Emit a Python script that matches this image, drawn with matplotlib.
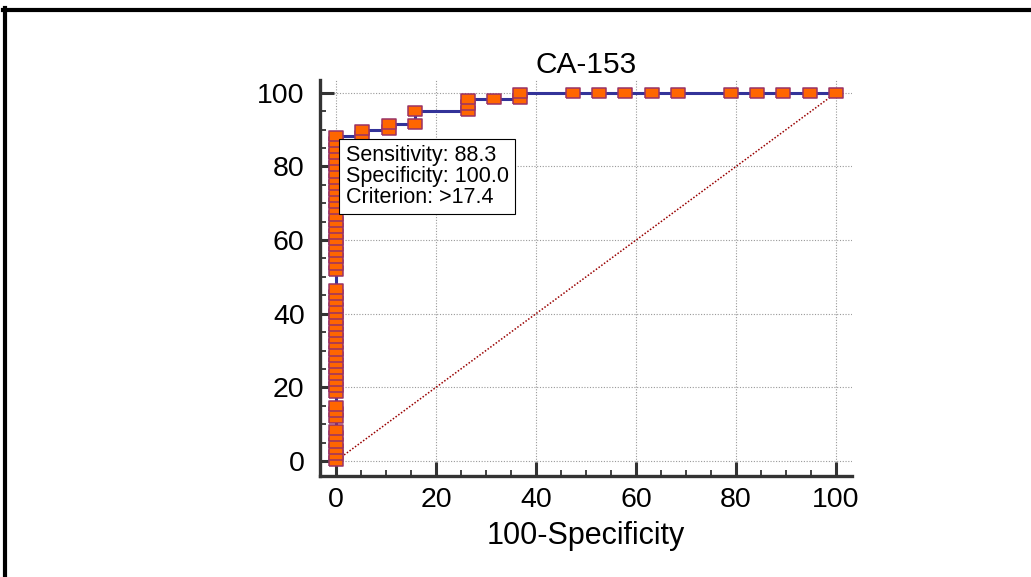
import numpy as np
import matplotlib
matplotlib.use("Agg")
import matplotlib.pyplot as plt
from matplotlib.lines import Line2D
from matplotlib.ticker import MultipleLocator

plt.rcParams['font.family'] = ['Liberation Sans', 'DejaVu Sans']

# === ROC points for CA-153 (100-Specificity, Sensitivity) ===
fpr = [0] * 50 + [5.26, 5.26, 10.53, 10.53, 15.79, 15.79,
                  26.32, 26.32, 26.32, 31.58, 36.84, 36.84,
                  47.37, 52.63, 57.89, 63.16, 68.42,
                  78.95, 84.21, 89.47, 94.74, 100.0]
tpr = [0, 1.67, 3.33, 5.0, 6.67, 8.33, 11.67, 13.33, 15.0,
       18.33, 20.0, 21.67, 23.33, 25.0, 26.67, 28.33, 30.0, 31.67,
       33.33, 35.0, 36.67, 38.33, 40.0, 41.67, 43.33, 45.0, 46.67,
       51.67, 53.33, 55.0, 56.67, 58.33, 60.0, 61.67, 63.33, 65.0,
       66.67, 68.33, 70.0, 71.67, 73.33, 75.0, 76.67, 78.33, 80.0,
       81.67, 83.33, 85.0, 86.67, 88.33,
       88.33, 90.0, 90.0, 91.67, 91.67, 95.0,
       95.0, 96.67, 98.33, 98.33, 98.33, 100.0,
       100.0, 100.0, 100.0, 100.0, 100.0,
       100.0, 100.0, 100.0, 100.0, 100.0]

title = "CA-153"
box_lines = ["Sensitivity: 88.3", "Specificity: 100.0", "Criterion: >17.4"]
ticks = [0, 20, 40, 60, 80, 100]

fig = plt.figure(figsize=(10.31, 5.77), dpi=100)
ax = fig.add_axes([320 / 1031, 1 - 476 / 577, 532 / 1031, 396 / 577])

# grid
for t in ticks:
    ax.axhline(t, color='#999999', lw=0.8, ls=(0, (1, 1.5)), zorder=1)
    ax.axvline(t, color='#999999', lw=0.8, ls=(0, (1, 1.5)), zorder=1)

# diagonal reference
ax.plot([0, 100], [0, 100], color='#990000', lw=1.1, ls=(0, (1, 1.2)), zorder=2)

# ROC curve (steps) + markers
rect = [(-1.45, -1), (1.45, -1), (1.45, 1), (-1.45, 1), (-1.45, -1)]
ax.plot(fpr, tpr, color='#333399', lw=2.2, drawstyle='steps-post', zorder=3)
ax.plot(fpr, tpr, ls='none', marker=rect, markersize=9.8,
        markerfacecolor='#FF6600', markeredgecolor='#993366',
        markeredgewidth=1.1, zorder=4)

ax.set_xlim(-3.2, 103.2)
ax.set_ylim(-4.1, 103.5)
ax.set_xticks(ticks)
ax.set_yticks(ticks)
ax.xaxis.set_minor_locator(MultipleLocator(5))
ax.yaxis.set_minor_locator(MultipleLocator(5))
ax.tick_params(which='major', direction='in', length=10, width=2.2,
               color='#333333', labelsize=20.5)
ax.tick_params(which='minor', direction='in', length=4.5, width=1.3,
               color='#333333')
ax.tick_params(axis='x', which='major', pad=8)
ax.tick_params(axis='y', which='major', pad=11)

for s in ['top', 'right']:
    ax.spines[s].set_visible(False)
for s in ['left', 'bottom']:
    ax.spines[s].set_linewidth(2.4)
    ax.spines[s].set_color('#333333')

ax.set_title(title, fontsize=21.5, pad=5)
ax.set_xlabel("100-Specificity", fontsize=22, labelpad=6)

ax.text(1.9, 85.8, "\n".join(box_lines), fontsize=15.5, va='top', ha='left',
        linespacing=0.98, zorder=5,
        bbox=dict(boxstyle='square,pad=0.3', facecolor='white',
                  edgecolor='black', linewidth=0.8))

# outer frame (left and top edges)
fig.add_artist(Line2D([5 / 1031, 5 / 1031], [0, 1 - 8 / 577], color='black',
                      lw=3, transform=fig.transFigure))
fig.add_artist(Line2D([3 / 1031, 1], [1 - 10 / 577, 1 - 10 / 577], color='black',
                      lw=3, transform=fig.transFigure))

fig.savefig("out.png", dpi=100)
